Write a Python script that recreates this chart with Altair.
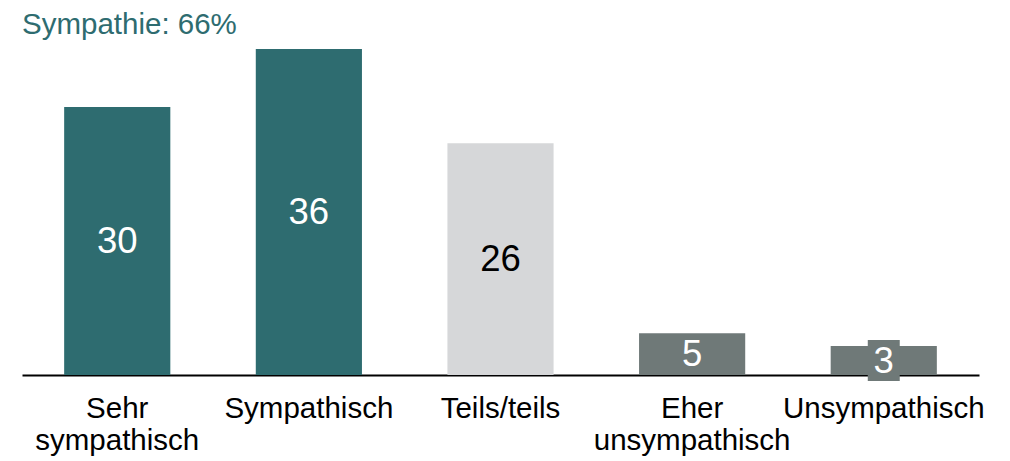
import altair as alt
import pandas as pd

categories = ["Sehr sympathisch", "Sympathisch", "Teils/teils", "Eher unsympathisch", "Unsympathisch"]
values = [29.6, 36.0, 25.6, 4.6, 3.2]
groups = ["sym", "sym", "neutral", "unsym", "unsym"]
title_text = "Sympathie: 66%"

df = pd.DataFrame({"cat": categories, "value": values, "group": groups})

FONT = "Liberation Sans"
TEAL = "#2e6c70"
LIGHT = "#d6d7d9"
DARK = "#6f7978"

color_scale = alt.Scale(domain=["sym", "neutral", "unsym"], range=[TEAL, LIGHT, DARK])

x = alt.X(
    "cat:N",
    sort=categories,
    scale=alt.Scale(paddingInner=0.446, paddingOuter=0.22),
    axis=alt.Axis(
        title=None,
        ticks=False,
        domainColor="black",
        domainWidth=2,
        labelFont=FONT,
        labelFontSize=29.5,
        labelColor="black",
        labelAngle=0,
        labelPadding=19,
        labelLineHeight=32,
        labelLimit=400,
        labelExpr="indexof(datum.label, ' ') > 0 ? split(datum.label, ' ') : datum.label",
    ),
)
y = alt.Y("value:Q", scale=alt.Scale(domain=[0, 36], nice=False), axis=None)

base = alt.Chart(df)

bars = base.mark_bar().encode(
    x=x,
    y=y,
    color=alt.Color("group:N", scale=color_scale, legend=None),
)

box = base.transform_filter("datum.value < 4").transform_calculate(
    mid="datum.value / 2"
).mark_point(
    shape="M-0.78,-1H0.78V1H-0.78Z", filled=True, opacity=1, size=1681, color=DARK
).encode(
    x=alt.X("cat:N", sort=categories),
    y=alt.Y("mid:Q"),
)

labels = base.transform_calculate(mid="datum.value / 2").mark_text(
    font=FONT, fontSize=36.5, baseline="middle", align="center", dy=1
).encode(
    x=alt.X("cat:N", sort=categories),
    y=alt.Y("mid:Q"),
    text=alt.Text("value:Q", format=".0f"),
    color=alt.condition("datum.group == 'neutral'", alt.value("black"), alt.value("white")),
)

chart = (
    alt.layer(bars, box, labels)
    .properties(
        width=957,
        height=326,
        autosize=alt.AutoSizeParams(type="none"),
        padding={"left": 14, "top": 41, "right": 23, "bottom": 90},
        title=alt.Title(
            title_text,
            anchor="start",
            font=FONT,
            fontSize=29.5,
            fontWeight="normal",
            color=TEAL,
            offset=9,
        ),
    )
    .configure_view(stroke=None)
)

chart.save("out.html", embed_options={"renderer": "svg", "actions": False})
